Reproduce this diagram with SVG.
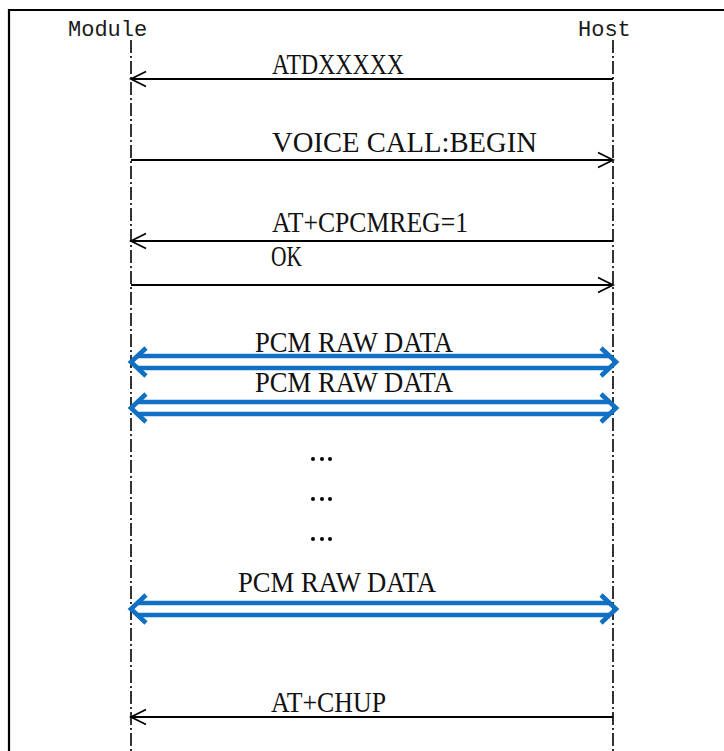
<svg xmlns="http://www.w3.org/2000/svg" xmlns:xlink="http://www.w3.org/1999/xlink" width="724" height="751" viewBox="0 0 724 751">
<style>
.frame{fill:none;stroke:#000;stroke-width:2.2}
.life{stroke:#000;stroke-width:1.6;stroke-dasharray:13 3 2 3;fill:none}
.head{font-family:"Liberation Mono",monospace;font-size:22px;fill:#1a1a1a}
.msg{fill:none;stroke:#000;stroke-width:1.8}
.lbl{font-family:"Liberation Serif",serif;font-size:30px;fill:#111}
.pcm{fill:none;stroke:#0F70C4;stroke-width:4.6}
.dot{fill:#000}
</style>
<defs>
<marker id="open" markerUnits="userSpaceOnUse" markerWidth="20" markerHeight="20" refX="0" refY="0" orient="auto" overflow="visible" viewBox="-20 -10 20 20">
<path d="M-15,-7.5 L0,0 L-15,7.5" fill="none" stroke="#000" stroke-width="1.8"/>
</marker>
<g id="dbl">
<path class="pcm" d="M138,-6 H609 M138,6 H609"/>
<path class="pcm" d="M146,-14 L131,0 L146,14 M601,-14 L616,0 L601,14"/>
</g>
</defs>
<rect width="724" height="751" fill="#fff"/>
<path class="frame" d="M9,760 V10 H730"/>
<g id="module">
<text class="head" x="68" y="36">Module</text>
<line class="life" x1="131" y1="40" x2="131" y2="751"/>
</g>
<g id="host">
<text class="head" x="578" y="36">Host</text>
<line class="life" x1="613" y1="40" x2="613" y2="751"/>
</g>
<g id="connectors">
<line class="msg" x1="613" y1="79" x2="131" y2="79" marker-end="url(#open)"/>
<text class="lbl" x="272" y="74" textLength="132" lengthAdjust="spacingAndGlyphs">ATDXXXXX</text>
<line class="msg" x1="131" y1="160" x2="613" y2="160" marker-end="url(#open)"/>
<text class="lbl" x="272" y="152" textLength="265" lengthAdjust="spacingAndGlyphs">VOICE CALL:BEGIN</text>
<line class="msg" x1="613" y1="241" x2="131" y2="241" marker-end="url(#open)"/>
<text class="lbl" x="272" y="232" textLength="196" lengthAdjust="spacingAndGlyphs">AT+CPCMREG=1</text>
<line class="msg" x1="131" y1="285" x2="613" y2="285" marker-end="url(#open)"/>
<text class="lbl" x="271" y="266" textLength="31" lengthAdjust="spacingAndGlyphs">OK</text>
<use xlink:href="#dbl" href="#dbl" transform="translate(0,362)"/>
<text class="lbl" x="255" y="352" textLength="198" lengthAdjust="spacingAndGlyphs">PCM RAW DATA</text>
<use xlink:href="#dbl" href="#dbl" transform="translate(0,408)"/>
<text class="lbl" x="255" y="392" textLength="198" lengthAdjust="spacingAndGlyphs">PCM RAW DATA</text>
<circle class="dot" cx="313" cy="459" r="2"/><circle class="dot" cx="322" cy="459" r="2"/><circle class="dot" cx="330" cy="459" r="2"/>
<circle class="dot" cx="313" cy="499" r="2"/><circle class="dot" cx="322" cy="499" r="2"/><circle class="dot" cx="330" cy="499" r="2"/>
<circle class="dot" cx="313" cy="539" r="2"/><circle class="dot" cx="322" cy="539" r="2"/><circle class="dot" cx="330" cy="539" r="2"/>
<use xlink:href="#dbl" href="#dbl" transform="translate(0,609)"/>
<text class="lbl" x="238" y="592" textLength="198" lengthAdjust="spacingAndGlyphs">PCM RAW DATA</text>
<line class="msg" x1="613" y1="717" x2="131" y2="717" marker-end="url(#open)"/>
<text class="lbl" x="271" y="712" textLength="115" lengthAdjust="spacingAndGlyphs">AT+CHUP</text>
</g>
</svg>
